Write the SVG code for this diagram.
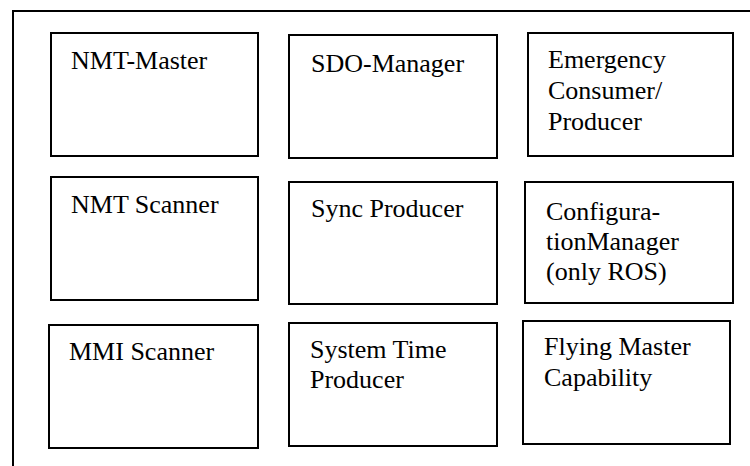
<svg xmlns="http://www.w3.org/2000/svg" width="750" height="466" viewBox="0 0 750 466">
<style>
.box{fill:#fff;stroke:#000;stroke-width:2}
.frame{fill:none;stroke:#000;stroke-width:2}
.t{font-family:'Liberation Serif','Times New Roman',serif;font-size:26px;fill:#000}
</style>
<rect width="750" height="466" fill="#fff"/>
<g id="frame">
<path class="frame" d="M13,466 V11 H750"/>
</g>
<g id="nmt-master"><rect class="box" x="51" y="33" width="207" height="123"/><text class="t" x="71" y="69">NMT-Master</text></g>
<g id="sdo-manager"><rect class="box" x="289" y="35" width="208" height="123"/><text class="t" x="311" y="72">SDO-Manager</text></g>
<g id="emergency"><rect class="box" x="528" y="33" width="205" height="123"/><text class="t" x="548" y="68">Emergency</text><text class="t" x="548" y="99">Consumer/</text><text class="t" x="548" y="130">Producer</text></g>
<g id="nmt-scanner"><rect class="box" x="51" y="177" width="207" height="123"/><text class="t" x="71" y="213">NMT Scanner</text></g>
<g id="sync-producer"><rect class="box" x="289" y="182" width="208" height="122"/><text class="t" x="311" y="217">Sync Producer</text></g>
<g id="configuration-manager"><rect class="box" x="525" y="182" width="208" height="121"/><text class="t" x="546" y="220">Configura-</text><text class="t" x="546" y="250">tionManager</text><text class="t" x="546" y="280">(only ROS)</text></g>
<g id="mmi-scanner"><rect class="box" x="49" y="325" width="209" height="123"/><text class="t" x="69" y="360">MMI Scanner</text></g>
<g id="system-time-producer"><rect class="box" x="289" y="323" width="208" height="123"/><text class="t" x="310" y="358">System Time</text><text class="t" x="310" y="388">Producer</text></g>
<g id="flying-master"><rect class="box" x="523" y="321" width="207" height="123"/><text class="t" x="544" y="355">Flying Master</text><text class="t" x="544" y="386">Capability</text></g>
<g id="connectors"></g>
</svg>
